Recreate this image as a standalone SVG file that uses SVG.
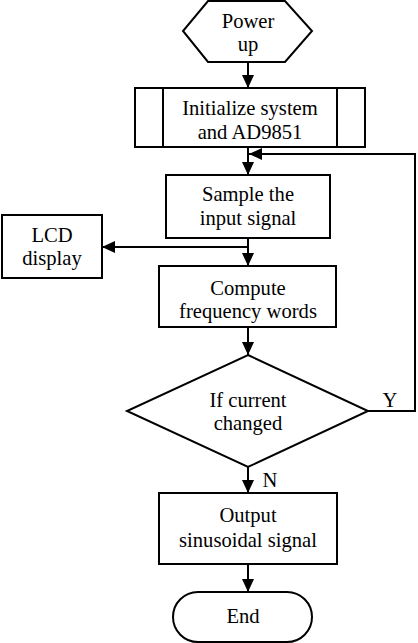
<svg xmlns="http://www.w3.org/2000/svg" width="418" height="643" viewBox="0 0 418 643">
<style>
.n{fill:#fff;stroke:#000;stroke-width:2}
.t{font-family:"Liberation Serif","Times New Roman",serif;font-size:20.6px;fill:#000;text-anchor:middle}
.c{fill:none;stroke:#000;stroke-width:2}
</style>
<defs>
<marker id="ah" markerUnits="userSpaceOnUse" markerWidth="14" markerHeight="14" viewBox="0 0 14 14" refX="13" refY="7" orient="auto">
<path d="M0,1 L13,7 L0,13 Z" fill="#000"/>
</marker>
</defs>
<rect width="418" height="643" fill="#fff"/>
<g id="power">
<polygon class="n" points="208,1 285,1 312,31 285,62 208,62 183,31"/>
<text class="t" x="248" y="28">Power</text>
<text class="t" x="248" y="51">up</text>
</g>
<g id="init">
<rect class="n" x="135" y="88" width="230" height="59"/>
<line class="c" x1="163" y1="88" x2="163" y2="147"/>
<line class="c" x1="337" y1="88" x2="337" y2="147"/>
<text class="t" x="250" y="115">Initialize system</text>
<text class="t" x="250" y="139">and AD9851</text>
</g>
<g id="sample">
<rect class="n" x="166" y="175" width="164" height="63"/>
<text class="t" x="248" y="201">Sample the</text>
<text class="t" x="248" y="225">input signal</text>
</g>
<g id="lcd">
<rect class="n" x="2" y="215" width="100" height="63"/>
<text class="t" x="52" y="242">LCD</text>
<text class="t" x="52" y="265">display</text>
</g>
<g id="compute">
<rect class="n" x="159" y="266" width="177" height="61"/>
<text class="t" x="248" y="295">Compute</text>
<text class="t" x="248" y="318">frequency words</text>
</g>
<g id="decision">
<polygon class="n" points="248,355 368,411 248,467 127,411"/>
<text class="t" x="248" y="407">If current</text>
<text class="t" x="248" y="430">changed</text>
</g>
<g id="output">
<rect class="n" x="159" y="493" width="178" height="71"/>
<text class="t" x="248" y="522">Output</text>
<text class="t" x="248" y="547">sinusoidal signal</text>
</g>
<g id="end">
<rect class="n" x="173" y="592" width="139" height="50" rx="25" ry="25"/>
<text class="t" x="243" y="623">End</text>
</g>
<g id="connectors">
<line class="c" x1="248" y1="62" x2="248" y2="88" marker-end="url(#ah)"/>
<line class="c" x1="248" y1="147" x2="248" y2="175" marker-end="url(#ah)"/>
<line class="c" x1="248" y1="238" x2="248" y2="266" marker-end="url(#ah)"/>
<line class="c" x1="248" y1="247" x2="102" y2="247" marker-end="url(#ah)"/>
<line class="c" x1="248" y1="327" x2="248" y2="355" marker-end="url(#ah)"/>
<line class="c" x1="248" y1="467" x2="248" y2="493" marker-end="url(#ah)"/>
<line class="c" x1="248" y1="564" x2="248" y2="592" marker-end="url(#ah)"/>
<polyline class="c" points="368,411 415,411 415,154 249,154" marker-end="url(#ah)"/>
<text class="t" x="390" y="407">Y</text>
<text class="t" x="270" y="487">N</text>
</g>
</svg>
